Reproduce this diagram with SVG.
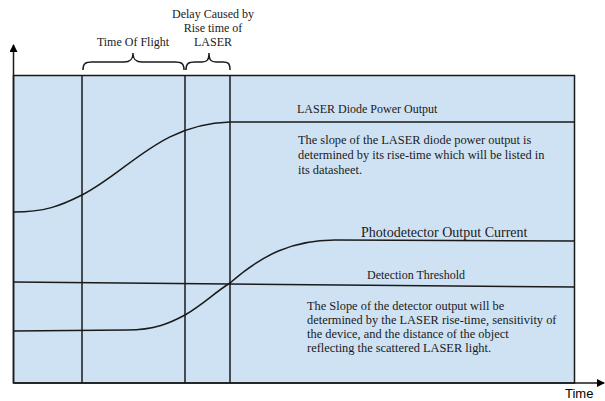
<svg xmlns="http://www.w3.org/2000/svg" width="605" height="401" viewBox="0 0 605 401">
<defs>
<marker id="arr" markerWidth="8" markerHeight="8" refX="7" refY="4" orient="auto" markerUnits="userSpaceOnUse">
<path d="M0,0 L8,4 L0,8 Z" fill="#000"/>
</marker>
<style>
.ln{stroke:#1a1a1a;stroke-width:1.5;fill:none}
.t{font-family:"Liberation Serif",serif;font-size:12px;fill:#1a1a1a}
.p{font-size:12.4px}
.ts{font-family:"Liberation Sans",sans-serif;font-size:13px;fill:#000}
</style>
</defs>
<rect width="605" height="401" fill="#fff"/>
<g id="plot">
<rect x="13.5" y="75.5" width="561" height="307.5" fill="#cfe2f3" stroke="#1a1a1a" stroke-width="1.5"/>
</g>
<g id="connectors">
<line class="ln" x1="13.5" y1="383" x2="13.5" y2="45" marker-end="url(#arr)"/>
<line class="ln" x1="13.5" y1="383" x2="604" y2="383" marker-end="url(#arr)"/>
<line class="ln" x1="82" y1="75.5" x2="82" y2="383"/>
<line class="ln" x1="185" y1="75.5" x2="185" y2="383"/>
<line class="ln" x1="230" y1="75.5" x2="230" y2="383"/>
<path class="ln" d="M13.5,212 C45,212 60,206 82,195 C130,170 160,124 230,122 L575,122"/>
<path class="ln" d="M13.5,331 L127,330 C155,330 170,323 185,315 C205,303 214,293 230,283 C262,255 292,240 335,240 L575,241"/>
<path class="ln" d="M13.5,282 L575,287"/>
<path class="ln" d="M83,70 C83,63 86,62 92,62 L124,62 C130,62 133,60 133,53 C133,60 136,62 142,62 L175,62 C181,62 184,63 184,70"/>
<path class="ln" d="M186,70 C186,63 189,62 195,62 L202,62 C207,62 209,60 209,53 C209,60 211,62 216,62 L223,62 C228,62 230,63 230,70"/>
</g>
<g id="labels">
<text class="t" x="133" y="46" text-anchor="middle">Time Of Flight</text>
<text class="t" x="213" y="18" text-anchor="middle">Delay Caused by</text>
<text class="t" x="213" y="32" text-anchor="middle">Rise time of</text>
<text class="t" x="213" y="46" text-anchor="middle">LASER</text>
<text class="t" x="297" y="113">LASER Diode Power Output</text>
<text class="t p" x="298" y="144">The slope of the LASER diode power output is</text>
<text class="t p" x="298" y="159">determined by its rise-time which will be listed in</text>
<text class="t p" x="298" y="174">its datasheet.</text>
<text class="t" x="361" y="237" style="font-size:14px">Photodetector Output Current</text>
<text class="t" x="367" y="279">Detection Threshold</text>
<text class="t p" x="307" y="310">The Slope of the detector output will be</text>
<text class="t p" x="307" y="324">determined by the LASER rise-time, sensitivity of</text>
<text class="t p" x="307" y="338">the device, and the distance of the object</text>
<text class="t p" x="307" y="352">reflecting the scattered LASER light.</text>
<text class="ts" x="565" y="398">Time</text>
</g>
</svg>
